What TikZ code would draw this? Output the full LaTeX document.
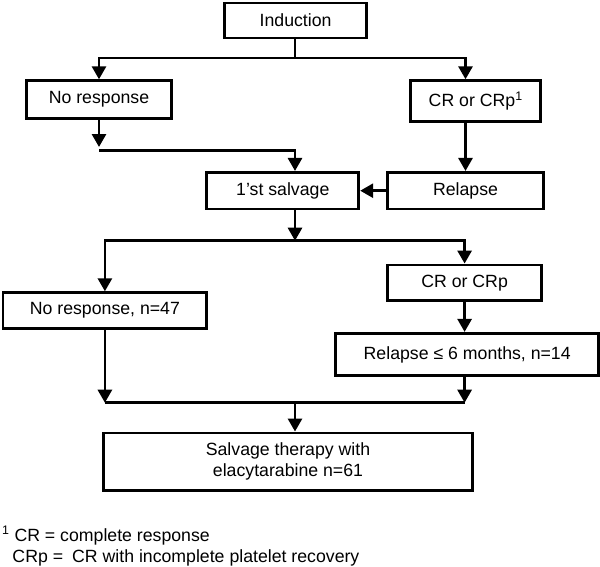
\documentclass[tikz,border=0pt]{standalone}
\usepackage{fontspec}
\setmainfont{Liberation Sans}
\usepackage{tikz}
\usetikzlibrary{arrows.meta,positioning}
\tikzstyle{box}=[draw,line width=2.8pt,inner sep=0pt,align=center]
\tikzstyle{arr}=[line width=2.8pt,-{Triangle[width=14pt,length=13pt]}]
\tikzstyle{ln}=[line width=2.8pt]
\tikzstyle{note}=[anchor=base west,inner sep=0pt]

\begin{document}
\begin{tikzpicture}[x=1pt,y=-1pt,font=\fontsize{17.7}{21}\selectfont]
    \useasboundingbox (0,0) rectangle (600,566);
    \node[box,minimum width=142pt,minimum height=35pt] (ind) at (295.6,20.5) {Induction};
    \node[box,minimum width=145pt,minimum height=37.6pt] (nr) at (99,99.5) {No response};
    \node[box,minimum width=130pt,minimum height=41pt] (crp1) at (475.7,101.2) {CR or CRp\textsuperscript{1}};
    \node[box,minimum width=152pt,minimum height=36.7pt] (sal) at (282.8,190.7) {1’st salvage};
    \node[box,minimum width=155.7pt,minimum height=36.7pt] (rel) at (465.5,190.7) {Relapse};
    \node[box,minimum width=203.7pt,minimum height=35.6pt] (nr47) at (104.9,310.5) {No response, n=47};
    \node[box,minimum width=153.8pt,minimum height=35.7pt] (cr) at (464.6,282.8) {CR or CRp};
    \node[box,minimum width=263.3pt,minimum height=42.4pt] (rel14) at (467.2,354.5) {Relapse ≤ 6 months, n=14};
    \node[box,minimum width=369.3pt,minimum height=57.7pt] (sth) at (288,461.8) {Salvage therapy with\\elacytarabine n=61};
    \coordinate (j1) at (295,58);
    \coordinate (j2a) at (99,147);
    \coordinate (j2) at (99,150.7);
    \coordinate (j3) at (295,240.7);
    \coordinate (j4) at (295,402.7);
    \draw[ln] (ind.south -| j1) -- (j1);
    \draw[arr] (j1) -| (nr);
    \draw[arr] (j1) -| (crp1.north -| rel.north);
    \draw[arr] (nr) -- (j2a);
    \draw[arr] (j2) -| (sal.north -| j1);
    \draw[arr] (crp1.south -| rel.north) -- (rel);
    \draw[arr] (rel) -- (sal);
    \draw[arr] (sal.south -| j3) -- (j3);
    \draw[arr] (j3) -| (nr47);
    \draw[arr] (j3) -| (cr);
    \draw[arr] (cr) -- (cr.south |- rel14.north);
    \draw[arr] (nr47) -- (nr47 |- j4);
    \draw[arr] (rel14.south -| cr.south) -- (j4 -| cr.south);
    \draw[ln] (nr47 |- j4) -- (j4 -| cr.south);
    \draw[arr] (j4) -- (j4 |- sth.north);
    \node[note] (fn1) at (2,541) {\textsuperscript{1} CR = complete response};
    \node[note] (fn2) at (12.3,562) {CRp =\hspace{9pt}CR with incomplete platelet recovery};
\end{tikzpicture}
\end{document}
